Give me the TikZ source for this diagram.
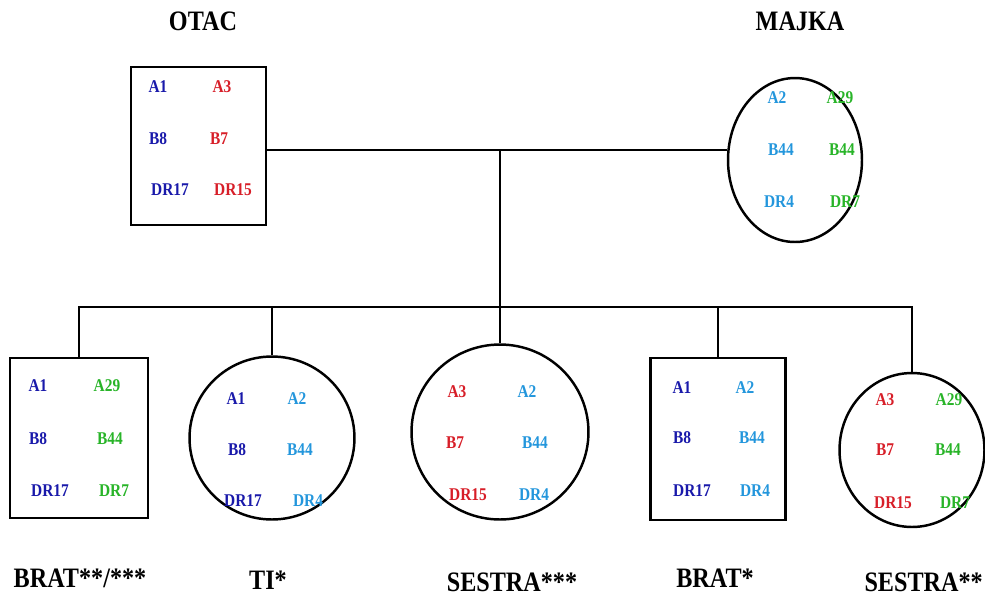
\documentclass[tikz,border=0pt]{standalone}
\usepackage{fontspec}
\setmainfont{Liberation Serif}
\newfontfamily\uski[FakeStretch=0.86]{Liberation Serif}
\usetikzlibrary{shapes.geometric}
\definecolor{tamnoplava}{RGB}{25,25,170}
\definecolor{crvena}{RGB}{215,30,40}
\definecolor{svijetloplava}{RGB}{35,150,220}
\definecolor{zelena}{RGB}{40,180,40}
\tikzset{
  kutija/.style={draw,rectangle,line width=1.4pt,inner sep=0pt},
  krug/.style={draw,ellipse,line width=1.4pt,inner sep=0pt},
  alel/.style={font=\uski\bfseries\fontsize{10.2}{12}\selectfont,inner sep=0pt},
  ime/.style={font=\uski\bfseries\fontsize{16}{18}\selectfont,inner sep=0pt}
}
\begin{document}
\begin{tikzpicture}[x=0.02cm,y=-0.02cm,line width=1.4pt]
        \useasboundingbox (0,0) rectangle (985,600);
        % roditelji
        \node[kutija,minimum width=2.7cm,minimum height=3.16cm] (otac) at (198.5,146) {};
        \node[krug,minimum width=2.68cm,minimum height=3.28cm] (majka) at (795,160) {};
        \node[ime] (otacime) at (203,21) {OTAC};
        \node[ime] (majkaime) at (800,21) {MAJKA};
        \node[alel,text=tamnoplava] (o1) at (158,87) {A1};
        \node[alel,text=crvena] (o2) at (222,87) {A3};
        \node[alel,text=tamnoplava] (o3) at (158,139) {B8};
        \node[alel,text=crvena] (o4) at (219,139) {B7};
        \node[alel,text=tamnoplava] (o5) at (170,190) {DR17};
        \node[alel,text=crvena] (o6) at (233,190) {DR15};
        \node[alel,text=svijetloplava] (m1) at (777,98) {A2};
        \node[alel,text=zelena] (m2) at (840,98) {A29};
        \node[alel,text=svijetloplava] (m3) at (781,150) {B44};
        \node[alel,text=zelena] (m4) at (842,150) {B44};
        \node[alel,text=svijetloplava] (m5) at (779,202) {DR4};
        \node[alel,text=zelena] (m6) at (845,202) {DR7};
        % djeca
        \node[kutija,minimum width=2.76cm,minimum height=3.2cm] (brat1) at (79,438) {};
        \node[krug,minimum width=3.3cm,minimum height=3.26cm] (ti) at (272,438) {};
        \node[krug,minimum width=3.54cm,minimum height=3.5cm] (sestra1) at (500,432) {};
        \node[kutija,minimum width=2.7cm,minimum height=3.24cm] (brat2) at (718,439) {};
        \node[krug,minimum width=2.9cm,minimum height=3.08cm] (sestra2) at (912,450) {};
        \node[ime] (brat1ime) at (80,578) {BRAT**/***};
        \node[ime] (tiime) at (268,580) {TI*};
        \node[ime] (sestra1ime) at (512,582) {SESTRA***};
        \node[ime] (brat2ime) at (715,578) {BRAT*};
        \node[ime,anchor=east] (sestra2ime) at (984,582) {SESTRA**};
        \node[alel,text=tamnoplava] (b1) at (38,386) {A1};
        \node[alel,text=zelena] (b2) at (107,386) {A29};
        \node[alel,text=tamnoplava] (b3) at (38,439) {B8};
        \node[alel,text=zelena] (b4) at (110,439) {B44};
        \node[alel,text=tamnoplava] (b5) at (50,491) {DR17};
        \node[alel,text=zelena] (b6) at (114,491) {DR7};
        \node[alel,text=tamnoplava] (t1) at (236,399) {A1};
        \node[alel,text=svijetloplava] (t2) at (297,399) {A2};
        \node[alel,text=tamnoplava] (t3) at (237,450) {B8};
        \node[alel,text=svijetloplava] (t4) at (300,450) {B44};
        \node[alel,text=tamnoplava] (t5) at (243,501) {DR17};
        \node[alel,text=svijetloplava] (t6) at (308,501) {DR4};
        \node[alel,text=crvena] (s1) at (457,392) {A3};
        \node[alel,text=svijetloplava] (s2) at (527,392) {A2};
        \node[alel,text=crvena] (s3) at (455,443) {B7};
        \node[alel,text=svijetloplava] (s4) at (535,443) {B44};
        \node[alel,text=crvena] (s5) at (468,495) {DR15};
        \node[alel,text=svijetloplava] (s6) at (534,495) {DR4};
        \node[alel,text=tamnoplava] (r1) at (682,388) {A1};
        \node[alel,text=svijetloplava] (r2) at (745,388) {A2};
        \node[alel,text=tamnoplava] (r3) at (682,438) {B8};
        \node[alel,text=svijetloplava] (r4) at (752,438) {B44};
        \node[alel,text=tamnoplava] (r5) at (692,491) {DR17};
        \node[alel,text=svijetloplava] (r6) at (755,491) {DR4};
        \node[alel,text=crvena] (e1) at (885,400) {A3};
        \node[alel,text=zelena] (e2) at (949,400) {A29};
        \node[alel,text=crvena] (e3) at (885,450) {B7};
        \node[alel,text=zelena] (e4) at (948,450) {B44};
        \node[alel,text=crvena] (e5) at (893,503) {DR15};
        \node[alel,text=zelena] (e6) at (955,503) {DR7};
        % linije
        \coordinate (brak) at (500,150);
        \coordinate (braca) at (500,307);
        \draw (otac.east |- brak) -- (majka.west |- brak);
        \draw (brak) -- (sestra1.north);
        \draw (brat1.north) -- (brat1 |- braca) -- (sestra2 |- braca) -- (sestra2.north);
        \draw (ti.north) -- (ti |- braca);
        \draw (brat2.north) -- (brat2 |- braca);
    \end{tikzpicture}
\end{document}
